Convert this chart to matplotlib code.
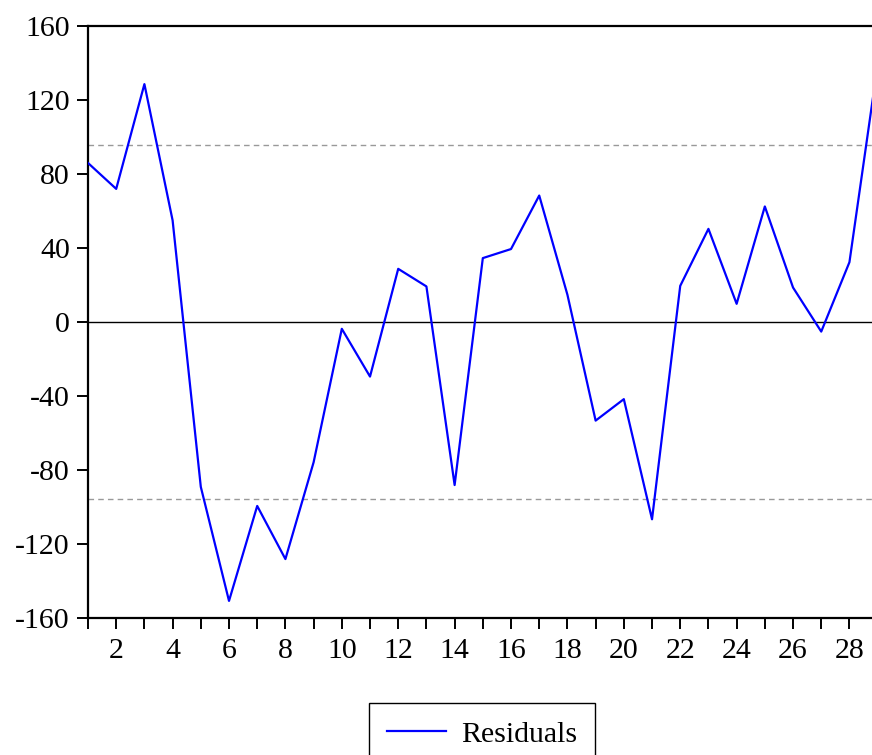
import matplotlib
matplotlib.use("Agg")
import matplotlib.pyplot as plt

# residual series
obs = list(range(1, 30))
residuals = [86, 72, 128.6, 55, -89, -150.6, -99.3, -128, -75.7, -3.6,
             -29.4, 28.8, 19.3, -88, 34.6, 39.5, 68.4, 14.8, -53.2, -41.6,
             -106.5, 19.6, 50.4, 9.9, 62.5, 18.7, -5.1, 32.4, 139]
band = 95.7  # +/- standard error band
y_ticks = [-160, -120, -80, -40, 0, 40, 80, 120, 160]
x_ticks = list(range(1, 29))
x_labels = [str(i) if i % 2 == 0 else "" for i in x_ticks]

plt.rcParams["font.family"] = ["Liberation Serif", "DejaVu Serif"]
plt.rcParams["axes.unicode_minus"] = False

fig = plt.figure(figsize=(8.72, 7.55), dpi=100)
ax = fig.add_axes([88/872, 1-618.3/755, 1-88/872, (618.3-26)/755])

ax.axhline(0, color="black", lw=1.0, zorder=1)
ax.axhline(band, color="#999999", lw=1.0, ls=(0, (4, 3)), zorder=1)
ax.axhline(-band, color="#999999", lw=1.0, ls=(0, (4, 3)), zorder=1)
ax.plot(obs, residuals, color="#0000ff", lw=1.6, label="Residuals", zorder=3)

ax.set_xlim(1, 28.8)
ax.set_ylim(-160, 160)
ax.set_yticks(y_ticks)
ax.set_xticks(x_ticks)
ax.set_xticklabels(x_labels)

for s in ["left", "top", "bottom"]:
    ax.spines[s].set_linewidth(1.6)
ax.spines["right"].set_visible(False)
ax.tick_params(axis="both", direction="out", length=8, width=1.4,
               labelsize=21.5, colors="black")
ax.tick_params(axis="x", pad=6.5)
ax.tick_params(axis="y", pad=5)

leg = fig.legend(loc="upper center", bbox_to_anchor=(482/872, 1-703/755),
                 fontsize=21.5, frameon=True, fancybox=False, framealpha=1,
                 edgecolor="black", handlelength=2.0, handletextpad=0.5,
                 borderpad=0.6, borderaxespad=0)
leg.get_frame().set_linewidth(1.0)

fig.savefig("out.png", dpi=100)
